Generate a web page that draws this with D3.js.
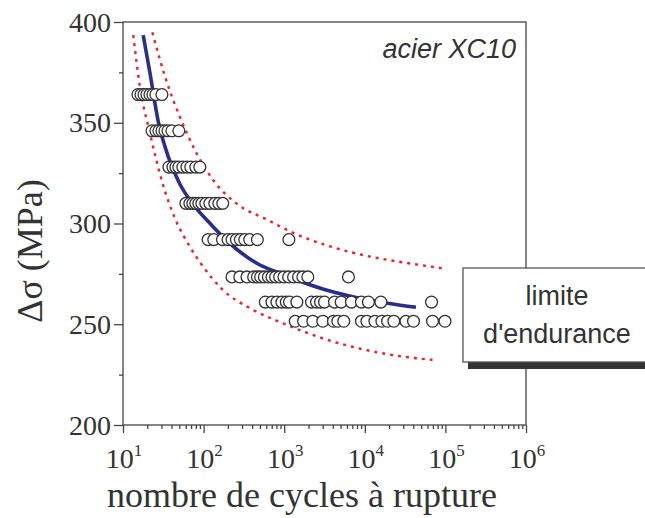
<!DOCTYPE html>
<html>
<head>
<meta charset="utf-8">
<script src="https://cdn.jsdelivr.net/npm/d3@7"></script>
<style>
  html, body { margin: 0; padding: 0; background: #fff; }
  svg { display: block; }
</style>
</head>
<body>
<svg id="chart" width="645" height="518"></svg>
<script>
// ---------- data ----------
const stressLevels = [364, 346, 328, 310, 292, 273.5, 261, 251.5];
const cyclesRow1 = [15.3, 16.7, 18.2, 19.8, 21.6, 23.5, 25.6, 30.4];
const cyclesRow2 = [22.9, 25.6, 27.9, 30.4, 33.1, 36.1, 40.4, 49.3];
const cyclesRow3 = [37.1, 41.6, 45.3, 49.3, 55.3, 62.0, 69.4, 80.1, 89.8];
const cyclesRow4 = [60.2, 67.5, 73.5, 80.1, 87.2, 95.0, 106.4, 119.3, 137.6, 154.3, 172.9];
const cyclesRow5 = [113.7, 133.6, 171.4, 201, 225, 255, 286, 324, 373, 465, 1143];
const cyclesRow6 = [225, 281, 345, 418, 465, 510, 567, 636, 704, 782, 877, 991, 1133, 1306, 1506, 1703, 1963, 6266];
const cyclesRow7 = [583, 704, 812, 936, 1061, 1166, 1436, 2182, 2517, 2820, 3162, 4204, 5089, 6826, 9080, 11080, 15820, 67300];
const cyclesRow8 = [1371, 1738, 2265, 3013, 4087, 4620, 5483, 9080, 10620, 13340, 16290, 19190, 22900, 32430, 40200, 69200, 98800];
const cyclesRows = [cyclesRow1, cyclesRow2, cyclesRow3, cyclesRow4, cyclesRow5, cyclesRow6, cyclesRow7, cyclesRow8];

const fitN = [17.8, 21.6, 27.4, 36.4, 50.7, 73.5, 112.7, 211, 451, 964, 3013, 7800, 20140, 43150];
const fitS = [393.5, 374.7, 350.5, 333.2, 319.6, 309.7, 301.2, 290.1, 280.4, 274.7, 267.5, 263.3, 260.3, 258.4];

const upperN = [23.1, 34.8, 50.7, 77.8, 131, 255, 628, 1483, 3800, 11900, 32400, 91200];
const upperS = [394.9, 370.4, 353.0, 336.5, 321.6, 310.0, 301.7, 294.3, 288.5, 283.5, 280.5, 277.8];

const lowerN = [13.4, 16.2, 21.6, 30.1, 44.1, 67.5, 98.6, 174, 378, 964, 3013, 10380, 26800, 69200];
const lowerS = [393.5, 367.9, 344.8, 321.6, 302.6, 288.5, 278.6, 267.0, 257.9, 250.5, 243.0, 237.2, 234.2, 232.3];

const yTicks = [200, 250, 300, 350, 400];
const yMinorTicks = [225, 275, 325, 375];
const xTickExponents = [1, 2, 3, 4, 5, 6];

const xTitle = "nombre de cycles à rupture";
const yTitle = "Δσ (MPa)";
const materialLabel = "acier XC10";
const boxLines = ["limite", "d'endurance"];

// ---------- drawing ----------
(function () {
const svg = d3.select("#chart");
const pL = 123, pR = 526, pT = 22, pB = 425;
const x = d3.scaleLog().domain([10, 1e6]).range([pL, pR]);
const y = d3.scaleLinear().domain([200, 400]).range([pB, pT]);

const serif = "'Liberation Serif', 'Times New Roman', serif";
const sans = "'Liberation Sans', Arial, Helvetica, sans-serif";
const ink = "#333";

svg.append("defs").append("clipPath").attr("id", "plotclip")
  .append("rect").attr("x", pL).attr("y", pT).attr("width", pR - pL).attr("height", pB - pT);

// frame
svg.append("rect").attr("x", pL).attr("y", pT).attr("width", pR - pL).attr("height", pB - pT)
  .attr("fill", "none").attr("stroke", "#444").attr("stroke-width", 1.3);

// y axis ticks
const yAxisMajor = d3.axisLeft(y).tickValues(yTicks).tickSize(9).tickFormat("");
const yAxisMinor = d3.axisLeft(y).tickValues(yMinorTicks).tickSize(4).tickFormat("");
[yAxisMajor, yAxisMinor].forEach(ax => {
  const g = svg.append("g").attr("transform", `translate(${pL},0)`).call(ax);
  g.select(".domain").remove();
  g.selectAll("line").attr("stroke", "#444").attr("stroke-width", 1.3);
});
svg.append("g").selectAll("text").data(yTicks).join("text")
  .attr("x", 111).attr("y", d => y(d)).attr("dy", "0.34em")
  .attr("text-anchor", "end").attr("font-family", serif).attr("font-size", 28).attr("fill", ink)
  .text(d => d);

// x axis ticks
const xMajor = xTickExponents.map(e => Math.pow(10, e));
const xMinor = [];
for (let e = 1; e < 6; e++) for (let m = 2; m <= 9; m++) xMinor.push(m * Math.pow(10, e));
const xAxisMajor = d3.axisBottom(x).tickValues(xMajor).tickSize(8).tickFormat("");
const xAxisMinor = d3.axisBottom(x).tickValues(xMinor).tickSize(4).tickFormat("");
[xAxisMajor, xAxisMinor].forEach(ax => {
  const g = svg.append("g").attr("transform", `translate(0,${pB})`).call(ax);
  g.select(".domain").remove();
  g.selectAll("line").attr("stroke", "#444").attr("stroke-width", 1.3);
});
const xl = svg.append("g").selectAll("text").data(xTickExponents).join("text")
  .attr("x", d => x(Math.pow(10, d)) + 1).attr("y", 468)
  .attr("text-anchor", "middle").attr("font-family", serif).attr("font-size", 28).attr("fill", ink);
xl.append("tspan").text("10");
xl.append("tspan").attr("font-size", 17).attr("dy", -12).text(d => d);

// axis titles
svg.append("text").attr("x", 302).attr("y", 507).attr("text-anchor", "middle")
  .attr("font-family", serif).attr("font-size", 36).attr("fill", ink).text(xTitle);
svg.append("text").attr("transform", "translate(42,251) rotate(-90)").attr("text-anchor", "middle")
  .attr("font-family", serif).attr("font-size", 36).attr("fill", ink).text(yTitle);

// curves
const line = d3.line().x(d => x(d[0])).y(d => y(d[1])).curve(d3.curveMonotoneX);
const plot = svg.append("g").attr("clip-path", "url(#plotclip)");
const zip = (a, b) => a.map((v, i) => [v, b[i]]);
[[upperN, upperS], [lowerN, lowerS]].forEach(([n, s]) => {
  plot.append("path").datum(zip(n, s)).attr("d", line)
    .attr("fill", "none").attr("stroke", "#f0202a").attr("stroke-width", 2.4)
    .attr("stroke-dasharray", "3,5");
});
plot.append("path").datum(zip(fitN, fitS)).attr("d", line)
  .attr("fill", "none").attr("stroke", "#2b2d8e").attr("stroke-width", 3.6);

// points
const pts = [];
cyclesRows.forEach((row, i) => row.forEach(n => pts.push([n, stressLevels[i]])));
svg.append("g").selectAll("circle").data(pts).join("circle")
  .attr("cx", d => x(d[0])).attr("cy", d => y(d[1])).attr("r", 5.9)
  .attr("fill", "#fff").attr("stroke", "#333").attr("stroke-width", 1.3);

// material label
svg.append("text").attr("x", 516).attr("y", 58).attr("text-anchor", "end")
  .attr("font-family", sans).attr("font-style", "italic").attr("font-size", 27).attr("fill", ink)
  .text(materialLabel);

// endurance box with shadow
svg.append("rect").attr("x", 468).attr("y", 362).attr("width", 190).attr("height", 7).attr("fill", "#333");
svg.append("rect").attr("x", 463).attr("y", 268).attr("width", 200).attr("height", 94)
  .attr("fill", "#fff").attr("stroke", "#555").attr("stroke-width", 1.3);
svg.append("g").selectAll("text").data(boxLines).join("text")
  .attr("x", 557).attr("y", (d, i) => 305 + i * 37.5).attr("text-anchor", "middle")
  .attr("font-family", sans).attr("font-size", 27).attr("fill", ink).text(d => d);
})();
</script>
</body>
</html>
